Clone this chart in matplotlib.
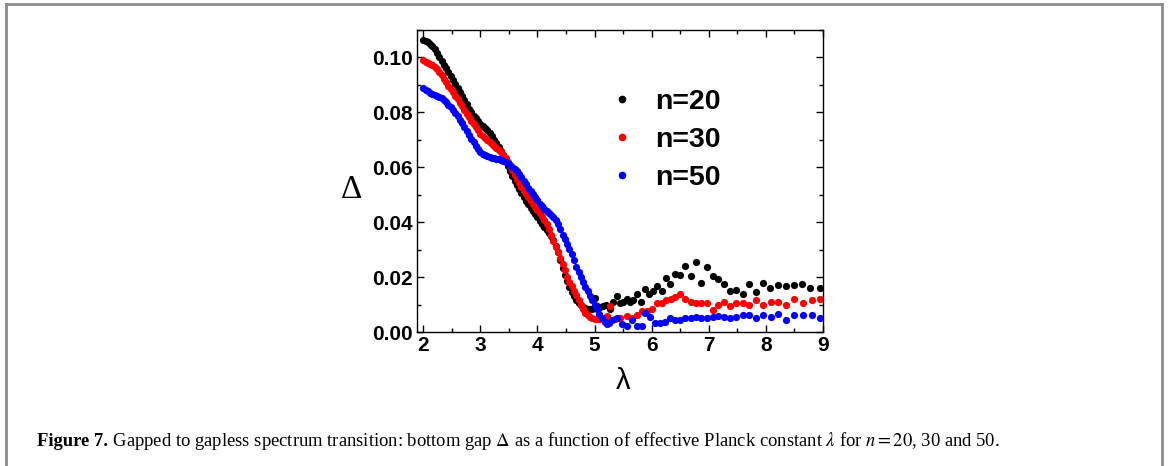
import numpy as np
import matplotlib
matplotlib.use("Agg")
import matplotlib.pyplot as plt
from matplotlib.lines import Line2D
from matplotlib.ticker import MultipleLocator

plt.rcParams['mathtext.fontset'] = 'stix'

# dense part of the sweep (shared lambda grid)
lam_dense = np.round(np.arange(2.0, 4.97, 0.04), 2)

d20_dense = [0.1065, 0.1060, 0.1055, 0.1050, 0.1043, 0.1030, 0.1015, 0.1000, 0.0987, 0.0973,
             0.0960, 0.0946, 0.0932, 0.0918, 0.0904, 0.0889, 0.0874, 0.0859, 0.0844, 0.0829,
             0.0814, 0.0800, 0.0788, 0.0778, 0.0768, 0.0759, 0.0751, 0.0743, 0.0734, 0.0725,
             0.0714, 0.0701, 0.0688, 0.0674, 0.0660, 0.0643, 0.0625, 0.0605, 0.0585, 0.0567,
             0.0550, 0.0535, 0.0520, 0.0505, 0.0491, 0.0478, 0.0466, 0.0453, 0.0441, 0.0430,
             0.0418, 0.0406, 0.0395, 0.0384, 0.0373, 0.0362, 0.0350, 0.0335, 0.0315, 0.0290,
             0.0262, 0.0234, 0.0208, 0.0185, 0.0163, 0.0145, 0.0130, 0.0118, 0.0107, 0.0098,
             0.0091, 0.0087, 0.0084, 0.0083, 0.0085]

d30_dense = [0.0990, 0.0985, 0.0980, 0.0976, 0.0972, 0.0966, 0.0958, 0.0948, 0.0936, 0.0923,
             0.0910, 0.0897, 0.0885, 0.0873, 0.0861, 0.0848, 0.0835, 0.0822, 0.0809, 0.0795,
             0.0782, 0.0769, 0.0757, 0.0745, 0.0734, 0.0723, 0.0713, 0.0705, 0.0698, 0.0692,
             0.0686, 0.0679, 0.0671, 0.0663, 0.0654, 0.0644, 0.0633, 0.0620, 0.0605, 0.0590,
             0.0573, 0.0557, 0.0542, 0.0528, 0.0515, 0.0502, 0.0490, 0.0478, 0.0467, 0.0456,
             0.0445, 0.0433, 0.0421, 0.0408, 0.0393, 0.0375, 0.0354, 0.0333, 0.0311, 0.0290,
             0.0269, 0.0248, 0.0225, 0.0202, 0.0182, 0.0166, 0.0151, 0.0134, 0.0117, 0.0100,
             0.0084, 0.0071, 0.0061, 0.0055, 0.0050]

d50_dense = [0.0888, 0.0883, 0.0877, 0.0872, 0.0868, 0.0864, 0.0860, 0.0856, 0.0851, 0.0844,
             0.0836, 0.0827, 0.0818, 0.0808, 0.0797, 0.0785, 0.0773, 0.0760, 0.0746, 0.0732,
             0.0718, 0.0704, 0.0691, 0.0678, 0.0667, 0.0657, 0.0650, 0.0644, 0.0640, 0.0637,
             0.0635, 0.0633, 0.0631, 0.0629, 0.0627, 0.0624, 0.0620, 0.0615, 0.0608, 0.0600,
             0.0593, 0.0585, 0.0575, 0.0563, 0.0550, 0.0538, 0.0526, 0.0514, 0.0502, 0.0490,
             0.0479, 0.0468, 0.0458, 0.0449, 0.0441, 0.0434, 0.0427, 0.0419, 0.0409, 0.0395,
             0.0376, 0.0355, 0.0337, 0.0320, 0.0302, 0.0284, 0.0262, 0.0236, 0.0218, 0.0201,
             0.0183, 0.0165, 0.0148, 0.0132, 0.0116]

# sparse tails (gapless side)
lam20_tail = [5.00, 5.05, 5.10, 5.14, 5.20, 5.27, 5.33, 5.39, 5.45, 5.50, 5.56, 5.62, 5.67,
              5.74, 5.81, 5.88, 5.96, 6.03, 6.10, 6.18, 6.25, 6.32, 6.41, 6.50, 6.59, 6.68,
              6.77, 6.86, 6.96, 7.07, 7.16, 7.26, 7.37, 7.48, 7.60, 7.71, 7.82, 7.95, 8.07,
              8.21, 8.35, 8.50, 8.64, 8.78, 8.95]
d20_tail = [0.0125, 0.0095, 0.0090, 0.0093, 0.0100, 0.0085, 0.0110, 0.0130, 0.0104, 0.0110,
            0.0120, 0.0110, 0.0118, 0.0140, 0.0110, 0.0155, 0.0140, 0.0148, 0.0167, 0.0148,
            0.0196, 0.0174, 0.0210, 0.0207, 0.0240, 0.0204, 0.0256, 0.0178, 0.0237, 0.0204,
            0.0193, 0.0174, 0.0148, 0.0152, 0.0140, 0.0174, 0.0144, 0.0178, 0.0160, 0.0170,
            0.0167, 0.0170, 0.0174, 0.0160, 0.0160]

lam30_tail = [5.00, 5.05, 5.10, 5.15, 5.21, 5.27, 5.36, 5.45, 5.56, 5.65, 5.74, 5.83, 5.92,
              6.00, 6.10, 6.18, 6.25, 6.34, 6.41, 6.50, 6.59, 6.68, 6.77, 6.86, 6.96, 7.07,
              7.16, 7.26, 7.37, 7.48, 7.60, 7.71, 7.82, 7.95, 8.09, 8.21, 8.35, 8.50, 8.65,
              8.80, 8.95]
d30_tail = [0.0048, 0.0047, 0.0048, 0.0048, 0.0060, 0.0096, 0.0048, 0.0052, 0.0059, 0.0052,
            0.0063, 0.0078, 0.0078, 0.0085, 0.0104, 0.0107, 0.0115, 0.0119, 0.0126, 0.0137,
            0.0119, 0.0110, 0.0107, 0.0107, 0.0107, 0.0080, 0.0100, 0.0110, 0.0093, 0.0104,
            0.0107, 0.0100, 0.0115, 0.0100, 0.0110, 0.0110, 0.0100, 0.0120, 0.0107, 0.0115,
            0.0120]

lam50_tail = [5.00, 5.04, 5.08, 5.13, 5.18, 5.22, 5.26, 5.31, 5.39, 5.48, 5.57, 5.66, 5.74,
              5.83, 5.88, 5.97, 6.06, 6.15, 6.24, 6.32, 6.41, 6.50, 6.59, 6.68, 6.77, 6.86,
              6.96, 7.07, 7.16, 7.26, 7.37, 7.48, 7.60, 7.71, 7.82, 7.95, 8.09, 8.21, 8.35,
              8.50, 8.65, 8.80, 8.95]
d50_tail = [0.0100, 0.0085, 0.0067, 0.0050, 0.0035, 0.0028, 0.0033, 0.0044, 0.0052, 0.0030,
            0.0022, 0.0044, 0.0022, 0.0022, 0.0070, 0.0056, 0.0033, 0.0033, 0.0037, 0.0052,
            0.0044, 0.0044, 0.0052, 0.0052, 0.0056, 0.0052, 0.0052, 0.0056, 0.0059, 0.0056,
            0.0052, 0.0056, 0.0063, 0.0063, 0.0052, 0.0063, 0.0056, 0.0067, 0.0044, 0.0063,
            0.0063, 0.0063, 0.0052]

labels = ["n=20", "n=30", "n=50"]
colors = ["black", "red", "blue"]

fig = plt.figure(figsize=(11.68, 4.66), dpi=100)
ax = fig.add_axes([417 / 1168, 1 - 332 / 466, 406 / 1168, 302 / 466])

series = [(d20_dense, lam20_tail, d20_tail),
          (d30_dense, lam30_tail, d30_tail),
          (d50_dense, lam50_tail, d50_tail)]
for (dense, lt, dt), c in zip(series, colors):
    x = np.concatenate([lam_dense, lt])
    y = np.concatenate([dense, dt])
    ax.plot(x, y, 'o', color=c, ms=5.2, mec='none')

ax.set_xlim(1.89, 9.0)
ax.set_ylim(0, 0.11)
ax.xaxis.set_major_locator(MultipleLocator(1))
ax.xaxis.set_minor_locator(MultipleLocator(0.5))
ax.yaxis.set_major_locator(MultipleLocator(0.02))
ax.yaxis.set_minor_locator(MultipleLocator(0.01))
ax.tick_params(which='both', direction='in', top=True, right=True, width=1)
ax.tick_params(which='major', length=5, labelsize=15, pad=3)
ax.tick_params(which='minor', length=3)
for lab in ax.get_xticklabels() + ax.get_yticklabels():
    lab.set_fontweight('bold')
    lab.set_family('Liberation Sans')
for s in ax.spines.values():
    s.set_linewidth(1)

# axis labels
fig.text(351 / 1168, 1 - 190 / 466, 'Δ', fontsize=24, family='Liberation Serif',
         ha='center', va='center')
fig.text(623 / 1168, 1 - 381 / 466, 'λ', fontsize=21, family='Liberation Sans',
         ha='center', va='center')

handles = [Line2D([], [], ls='none', marker='o', color=c, ms=4.5) for c in colors]
ax.legend(handles, labels, loc='upper left', bbox_to_anchor=(0.47, 0.805), frameon=False,
          prop={'family': 'Liberation Sans', 'weight': 'bold', 'size': 20.5},
          handletextpad=0.66, labelspacing=0.42, handlelength=1.0,
          borderpad=0, borderaxespad=0)

# caption
t1 = fig.text(37 / 1168, 1 - 441 / 466, 'Figure 7.', fontsize=13.4, fontweight='bold',
              family='Liberation Serif', va='center')
ax.annotate(r' Gapped to gapless spectrum transition: bottom gap $\Delta$ as a function of '
            r'effective Planck constant $\lambda$ for $n=20$, 30 and 50.',
            xy=(1, 0.5), xycoords=t1, va='center', ha='left', fontsize=13.4,
            family='Liberation Serif', annotation_clip=False)

# frame around figure (open at the bottom)
gray = '#8c8c8c'
fig.add_artist(Line2D([6 / 1168, 6 / 1168], [0, 1 - 4 / 466], color=gray, lw=2))
fig.add_artist(Line2D([6 / 1168, 1162 / 1168], [1 - 4 / 466, 1 - 4 / 466], color=gray, lw=2))
fig.add_artist(Line2D([1162 / 1168, 1162 / 1168], [0, 1 - 4 / 466], color=gray, lw=2))

fig.savefig('out.png', dpi=100)
